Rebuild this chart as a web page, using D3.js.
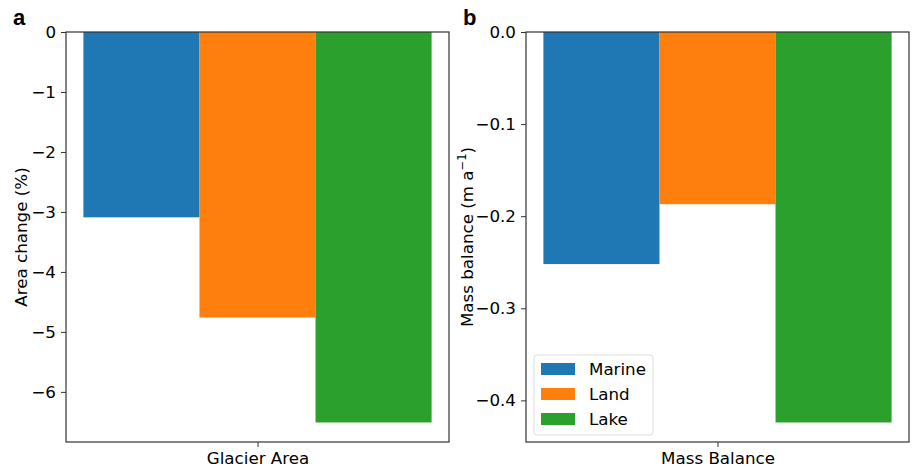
<!DOCTYPE html>
<html>
<head>
<meta charset="utf-8">
<script src="https://cdn.jsdelivr.net/npm/d3@7"></script>
<style>
  body { margin: 0; background: #fff; }
  svg { font-family: "DejaVu Sans", sans-serif; }
</style>
</head>
<body>
<svg id="chart" width="917" height="470"></svg>
<script>
// Glacier categories and values
const groups = ["Marine", "Land", "Lake"];
const colors = ["#1f77b4", "#ff7f0e", "#2ca02c"];
const areaChange = [-3.09, -4.76, -6.51];
const massBalance = [-0.252, -0.187, -0.424];
const areaTicks = [0, -1, -2, -3, -4, -5, -6];
const massTicks = [0, -0.1, -0.2, -0.3, -0.4];

const svg = d3.select("#chart");
const FONT = "DejaVu Sans, sans-serif";
const FS = 16.7;

function drawPanel(opts) {
    const { left, right, top, bottom, values, ticks, fmt, xLabel, yLabel, letter, labelX, letterX } = opts;
    const g = svg.append("g");

    const minVal = d3.min(values) * 1.05;
    const y = d3.scaleLinear().domain([minVal, 0]).range([bottom, top]);

    // bars: 3 bars of width 0.8/3, centred in data range with 5% margin
    const barW = 0.8 / 3;
    const offsets = groups.map((d, i) => (i - 1) * barW);
    const x = d3.scaleLinear()
        .domain([-0.4 - 0.04, 0.4 + 0.04])
        .range([left, right]);

    g.selectAll("rect.bar")
        .data(values)
        .enter()
        .append("rect")
        .attr("class", "bar")
        .attr("x", (d, i) => x(offsets[i] - barW / 2))
        .attr("width", x(barW) - x(0))
        .attr("y", y(0))
        .attr("height", d => y(d) - y(0))
        .attr("fill", (d, i) => colors[i]);

    // axes
    const yAxis = d3.axisLeft(y).tickValues(ticks).tickFormat(fmt).tickSize(5).tickPadding(5);
    const ya = g.append("g").attr("transform", `translate(${left},0)`).call(yAxis)
        .attr("font-family", FONT).attr("font-size", FS);
    ya.select(".domain").remove();
    ya.selectAll("text").attr("fill", "#000");
    ya.selectAll("line").attr("stroke", "#333");

    const xAxis = d3.axisBottom(x).tickValues([0]).tickFormat(() => xLabel).tickSize(5).tickPadding(5);
    const xa = g.append("g").attr("transform", `translate(0,${bottom})`).call(xAxis)
        .attr("font-family", FONT).attr("font-size", FS);
    xa.select(".domain").remove();
    xa.selectAll("text").attr("fill", "#000");
    xa.selectAll("line").attr("stroke", "#333");

    // frame
    g.append("rect")
        .attr("x", left).attr("y", top)
        .attr("width", right - left).attr("height", bottom - top)
        .attr("fill", "none").attr("stroke", "#333").attr("stroke-width", 1.2);

    // y label
    const yl = g.append("text")
        .attr("transform", `translate(${labelX},${(top + bottom) / 2}) rotate(-90)`)
        .attr("text-anchor", "middle")
        .attr("font-size", FS)
        .attr("fill", "#000");
    yLabel(yl);

    g.append("text")
        .attr("x", letterX).attr("y", 25)
        .attr("font-size", 22).attr("font-weight", "bold")
        .attr("font-family", "Liberation Sans, Arial, sans-serif")
        .text(letter);
    return g;
}

drawPanel({
    left: 66, right: 449, top: 32, bottom: 442,
    values: areaChange, ticks: areaTicks,
    fmt: d3.format("d"),
    xLabel: "Glacier Area",
    yLabel: t => t.text("Area change (%)"),
    letter: "a", labelX: 27, letterX: 13
});

const gb = drawPanel({
    left: 526, right: 909, top: 32, bottom: 442,
    values: massBalance, ticks: massTicks,
    fmt: d3.format(".1f"),
    xLabel: "Mass Balance",
    yLabel: t => {
        t.append("tspan").text("Mass balance (m a");
        t.append("tspan").attr("font-size", 11.5).attr("dy", -7).text("\u22121");
        t.append("tspan").attr("dy", 7).text(")");
    },
    letter: "b", labelX: 473, letterX: 463
});

// legend
const legend = gb.append("g").attr("transform", "translate(534,355)");
legend.append("rect")
    .attr("width", 119).attr("height", 80).attr("rx", 3)
    .attr("fill", "#fff").attr("fill-opacity", 0.8)
    .attr("stroke", "#ddd");
groups.forEach((name, i) => {
    const row = legend.append("g").attr("transform", `translate(7,${8 + i * 25})`);
    row.append("rect").attr("width", 34).attr("height", 12).attr("fill", colors[i]);
    row.append("text").attr("x", 48).attr("y", 6).attr("dy", "0.35em")
        .attr("font-size", FS).attr("fill", "#000").text(name);
});
</script>
</body>
</html>
